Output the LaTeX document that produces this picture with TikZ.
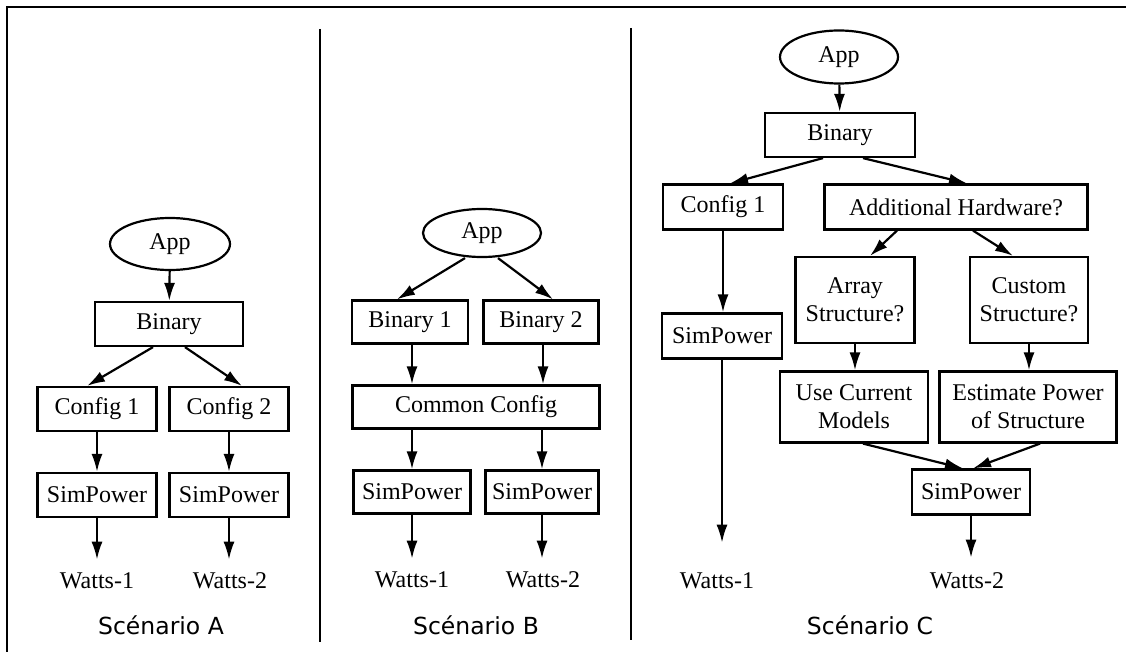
\documentclass[tikz,border=0pt]{standalone}
\usepackage{fontspec}
\setmainfont{Liberation Serif}
\newfontfamily\scenfont{DejaVu Sans}
\usetikzlibrary{arrows.meta,shapes.geometric}
\begin{document}
\begin{tikzpicture}[x=1pt,y=-1pt,
  box/.style={draw, line width=2.2pt, inner sep=0pt, align=center, font=\fontsize{24}{28}\selectfont},
  appnode/.style={ellipse, draw, line width=2.2pt, inner sep=0pt, font=\fontsize{24}{28}\selectfont},
  lbl/.style={inner sep=0pt, font=\fontsize{24}{28}\selectfont},
  scen/.style={inner sep=0pt, font=\scenfont\fontsize{23.5}{28}\selectfont},
  arr/.style={-{Latex[length=18pt,width=11pt]}, line width=2.2pt},
  frameline/.style={line width=1.3pt}]
\useasboundingbox (0,0) rectangle (1126,652);
% frame and dividers
\draw[frameline] (7,652) -- (7,7) -- (1126,7);
\draw[frameline] (320,29) -- (320,642);
\draw[frameline] (631,28) -- (631,640);

% ---------- Scenario A ----------
\node[appnode, minimum width=120pt, minimum height=52pt] (appA) at (170,244) {App};
\node[box, minimum width=148pt, minimum height=44pt] (binA) at (169,324) {Binary};
\node[box, minimum width=119pt, minimum height=44pt] (cfgA1) at (97,409) {Config 1};
\node[box, minimum width=119pt, minimum height=44pt] (cfgA2) at (229,409) {Config 2};
\node[box, minimum width=119pt, minimum height=44pt] (spA1) at (97,495) {SimPower};
\node[box, minimum width=119pt, minimum height=44pt] (spA2) at (229,495) {SimPower};
\node[lbl] (wA1) at (97,581) {Watts-1};
\node[lbl] (wA2) at (230,581) {Watts-2};
\node[scen] (scA) at (161,625) {Scénario A};
\draw[arr] (appA) -- (binA);
\draw[arr] ([xshift=-16pt]binA.south) -- ([xshift=-10pt]cfgA1.north);
\draw[arr] ([xshift=16pt]binA.south) -- ([xshift=13pt]cfgA2.north);
\draw[arr] (cfgA1) -- (spA1);
\draw[arr] (cfgA2) -- (spA2);
\draw[arr] (spA1.south) -- ([yshift=13pt]spA1.south |- wA1.north);
\draw[arr] (spA2.south) -- ([yshift=13pt]spA2.south |- wA2.north);

% ---------- Scenario B ----------
\node[appnode, minimum width=118pt, minimum height=48pt] (appB) at (482,233) {App};
\node[box, minimum width=116pt, minimum height=43pt] (bin1B) at (410,322) {Binary 1};
\node[box, minimum width=115pt, minimum height=43pt] (bin2B) at (541,322) {Binary 2};
\node[box, minimum width=247pt, minimum height=43pt] (ccB) at (476,407) {Common Config};
\node[box, minimum width=117pt, minimum height=43pt] (sp1B) at (412,492) {SimPower};
\node[box, minimum width=113pt, minimum height=43pt] (sp2B) at (542,492) {SimPower};
\node[lbl] (wB1) at (412,580) {Watts-1};
\node[lbl] (wB2) at (543,580) {Watts-2};
\node[scen] (scB) at (476,625) {Scénario B};
\draw[arr] ([xshift=-17pt]appB.south) -- ([xshift=-13pt]bin1B.north);
\draw[arr] ([xshift=16pt]appB.south) -- ([xshift=12pt]bin2B.north);
\draw[arr] ([xshift=2pt]bin1B.south) -- ([xshift=2pt]bin1B.south |- ccB.north);
\draw[arr] ([xshift=2pt]bin2B.south) -- ([xshift=2pt]bin2B.south |- ccB.north);
\draw[arr] (sp1B.north |- ccB.south) -- (sp1B.north);
\draw[arr] (sp2B.north |- ccB.south) -- (sp2B.north);
\draw[arr] (sp1B.south) -- ([yshift=13pt]sp1B.south |- wB1.north);
\draw[arr] (sp2B.south) -- ([yshift=13pt]sp2B.south |- wB2.north);

% ---------- Scenario C ----------
\node[appnode, minimum width=118pt, minimum height=53pt] (appC) at (839,57) {App};
\node[box, minimum width=150pt, minimum height=44pt] (binC) at (840,135) {Binary};
\node[box, minimum width=120pt, minimum height=45pt] (cfgC1) at (723,207) {Config 1};
\node[box, minimum width=263pt, minimum height=45pt] (ahC) at (956,207) {Additional Hardware?};
\node[box, minimum width=119pt, minimum height=86pt] (arrC) at (855,300) {Array\\Structure?};
\node[box, minimum width=118pt, minimum height=86pt] (cusC) at (1029,300) {Custom\\Structure?};
\node[box, minimum width=120pt, minimum height=45pt] (spC1) at (722,336) {SimPower};
\node[box, minimum width=148pt, minimum height=71pt] (ucmC) at (854,407) {Use Current\\Models};
\node[box, minimum width=177pt, minimum height=71pt] (epsC) at (1028,407) {Estimate Power\\of Structure};
\node[box, minimum width=118pt, minimum height=45pt] (spC2) at (971,492) {SimPower};
\node[lbl] (wC1) at (717,581) {Watts-1};
\node[lbl] (wC2) at (967,581) {Watts-2};
\node[scen] (scC) at (870,625) {Scénario C};
\draw[arr] (appC) -- (binC);
\draw[arr] ([xshift=-17pt]binC.south) -- ([xshift=7pt]cfgC1.north);
\draw[arr] ([xshift=23pt]binC.south) -- ([xshift=11pt]ahC.north);
\draw[arr] ([xshift=-59pt]ahC.south) -- ([xshift=15pt]arrC.north);
\draw[arr] ([xshift=17pt]ahC.south) -- ([xshift=-16pt]cusC.north);
\draw[arr] (cfgC1) -- (cfgC1 |- spC1.north);
\draw[arr] (spC1.south) -- ([yshift=30pt]spC1.south |- wC1.north);
\draw[arr] (arrC.south) -- (arrC.south |- ucmC.north);
\draw[arr] (cusC.south) -- (cusC.south |- epsC.north);
\draw[arr] ([xshift=9pt]ucmC.south) -- ([xshift=-8pt]spC2.north);
\draw[arr] ([xshift=12pt]epsC.south) -- ([xshift=2pt]spC2.north);
\draw[arr] (spC2.south) -- ([yshift=15pt]spC2.south |- wC2.north);
\end{tikzpicture}
\end{document}
